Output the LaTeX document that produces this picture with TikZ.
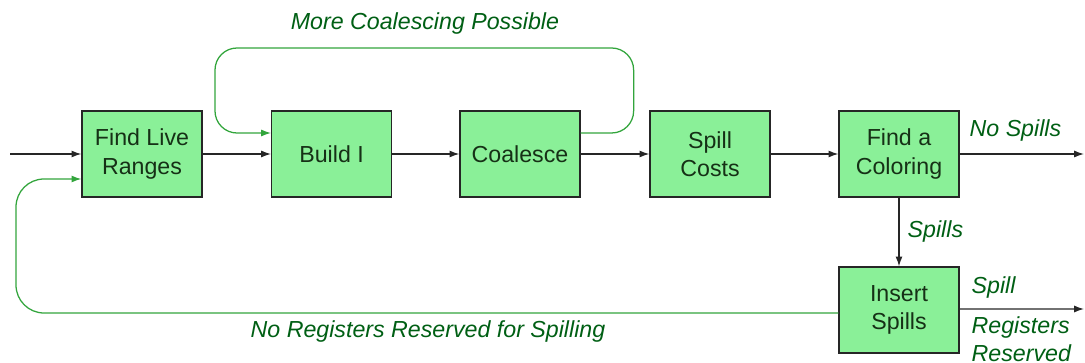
\documentclass[tikz,border=0pt]{standalone}
\usepackage{fontspec}
\setmainfont{Liberation Sans}
\usetikzlibrary{positioning,arrows.meta}
\definecolor{boxfill}{RGB}{138,240,152}
\definecolor{boxtext}{RGB}{22,48,22}
\definecolor{lblgreen}{RGB}{0,95,20}
\definecolor{loopgreen}{RGB}{50,165,60}
\tikzset{
  pbox/.style  = {draw=black!85, fill=boxfill, line width=0.9pt, minimum width=3cm,
                  minimum height=2.15cm, inner sep=2pt, align=center, text=boxtext,
                  font=\fontsize{16.5}{20}\selectfont},
  wire/.style  = {line width=0.9pt, draw=black!85, -{Latex[length=7pt,width=5pt]}},
  lwire/.style = {line width=0.9pt, draw=loopgreen, -{Latex[length=7pt,width=5pt]}},
  lbl/.style   = {font=\fontsize{16.5}{20}\selectfont\itshape, text=lblgreen, inner sep=1pt},
}
\begin{document}
\begin{tikzpicture}
  \useasboundingbox (0,0) rectangle (27.125,-9.075);
  \node[pbox] (flr) at (3.55,-3.85) {Find Live\\Ranges};
  \node[pbox] (bi) at (8.29,-3.85) {Build I};
  \node[pbox] (co) at (13.0,-3.85) {Coalesce};
  \node[pbox] (sc) at (17.75,-3.85) {Spill\\Costs};
  \node[pbox] (fc) at (22.475,-3.85) {Find a\\Coloring};
  \node[pbox] (is) at (22.475,-7.75) {Insert\\Spills};
  \coordinate (in) at (0.25,-3.85);
  \coordinate (out1) at (27.1,-3.85);
  \coordinate (out2) at (27.1,-7.725);
  % main flow
  \draw[wire] (in) -- (flr);
  \draw[wire] (flr) -- (bi);
  \draw[wire] (bi) -- (co);
  \draw[wire] (co) -- (sc);
  \draw[wire] (sc) -- (fc);
  \draw[wire] (fc) -- (out1);
  \draw[wire] (fc) -- (is);
  \draw[wire] ([yshift=0.025cm]is.east) -- (out2);
  % loops
  \draw[lwire, rounded corners=0.55cm] ([yshift=0.525cm]co.east) -- ++(1.325,0)
    |- (5.375,-1.2) |- ([yshift=0.525cm]bi.west);
  \draw[lwire, rounded corners=0.7cm] ([yshift=-0.075cm]is.west) -| (0.4,-4.475)
    -- ([yshift=-0.625cm]flr.west);
  % labels
  \node[lbl] at (10.625,-0.6) {More Coalescing Possible};
  \node[lbl, anchor=west] at (24.2,-3.275) {No Spills};
  \node[lbl, anchor=west] at (22.65,-5.8) {Spills};
  \node[lbl, anchor=west] at (24.25,-7.2) {Spill};
  \node[lbl, anchor=west] at (24.25,-8.2) {Registers};
  \node[lbl, anchor=west] at (24.25,-8.83) {Reserved};
  \node[lbl] at (10.7,-8.3) {No Registers Reserved for Spilling};
\end{tikzpicture}
\end{document}
